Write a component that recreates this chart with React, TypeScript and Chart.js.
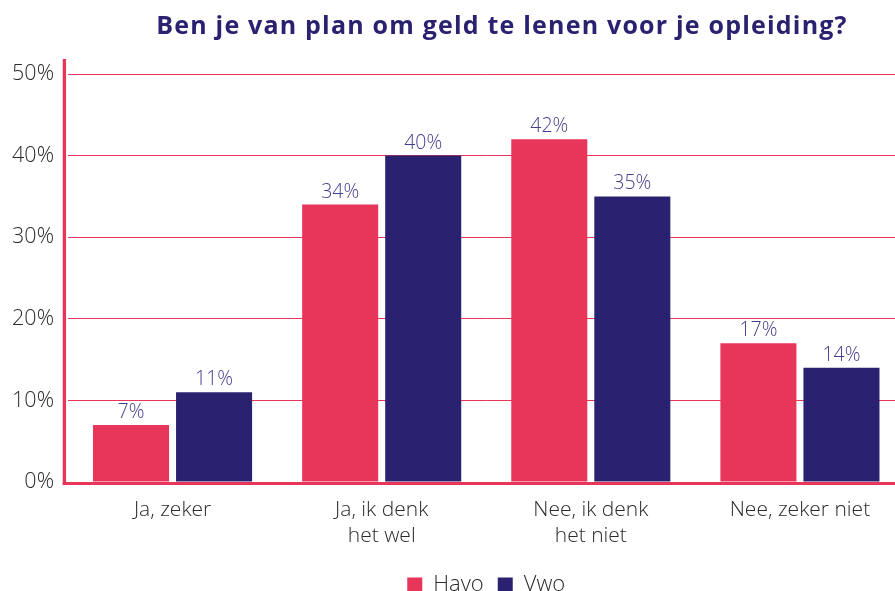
import React, { useEffect, useRef } from "react";
import { Chart, registerables } from "chart.js";

Chart.register(...registerables);

const titleText = "Ben je van plan om geld te lenen voor je opleiding?";
const categories: string[][] = [
  ["Ja, zeker"],
  ["Ja, ik denk", "het wel"],
  ["Nee, ik denk", "het niet"],
  ["Nee, zeker niet"],
];
const seriesNames = ["Havo", "Vwo"];
const havoValues = [7, 34, 42, 17];
const vwoValues = [11, 40, 35, 14];
const seriesColors = ["#e8355a", "#2a2270"];
const yMax = 50;
const yStep = 10;

const PINK = "#e8355a";
const NAVY = "#2a2270";
const TEXT = "#2b2b2b";
const LABEL = "#433d8e";
const FONT = "'Open Sans', Lato, sans-serif";

const decorPlugin = {
  id: "decor",
  afterDatasetsDraw(chart: any) {
    const { ctx, chartArea } = chart;
    ctx.save();
    // data labels
    ctx.font = `300 19.5px ${FONT}`;
    ctx.fillStyle = LABEL;
    ctx.textAlign = "center";
    ctx.textBaseline = "alphabetic";
    chart.data.datasets.forEach((ds: any, di: number) => {
      const meta = chart.getDatasetMeta(di);
      meta.data.forEach((bar: any, i: number) => {
        ctx.fillText(`${ds.data[i]}%`, bar.x, bar.y - 7);
      });
    });
    // axis lines
    ctx.strokeStyle = PINK;
    ctx.lineWidth = 3.3;
    ctx.beginPath();
    ctx.moveTo(chartArea.left - 3.6, 59);
    ctx.lineTo(chartArea.left - 3.6, chartArea.bottom + 3);
    ctx.stroke();
    ctx.lineWidth = 3;
    ctx.beginPath();
    ctx.moveTo(chartArea.left - 5.3, chartArea.bottom + 1.5);
    ctx.lineTo(chart.width, chartArea.bottom + 1.5);
    ctx.stroke();
    // title
    ctx.font = `700 25px ${FONT}`;
    try {
      (ctx as any).letterSpacing = "1.2px";
    } catch (e) {}
    ctx.fillStyle = NAVY;
    ctx.textAlign = "center";
    ctx.fillText(titleText, 502, 34);
    ctx.restore();
  },
};

export default function App() {
  const ref = useRef<HTMLCanvasElement | null>(null);
  useEffect(() => {
    if (!ref.current) return;
    const chart = new Chart(ref.current, {
      type: "bar",
      data: {
        labels: categories,
        datasets: [
          {
            label: seriesNames[0],
            data: havoValues,
            backgroundColor: seriesColors[0],
            borderWidth: 0,
            categoryPercentage: 0.794,
            barPercentage: 0.916,
          },
          {
            label: seriesNames[1],
            data: vwoValues,
            backgroundColor: seriesColors[1],
            borderWidth: 0,
            categoryPercentage: 0.794,
            barPercentage: 0.916,
          },
        ],
      },
      options: {
        responsive: false,
        animation: false,
        layout: { padding: { top: 74, right: 5.5, left: 0, bottom: 0 } },
        plugins: {
          title: { display: false },
          tooltip: { enabled: false },
          legend: {
            display: true,
            position: "bottom",
            fullSize: false,
            labels: {
              boxWidth: 15,
              boxHeight: 15,
              padding: 14,
              color: TEXT,
              font: { family: FONT, size: 22, weight: "300" as any },
            },
          },
        },
        scales: {
          x: {
            grid: { display: false, drawTicks: false },
            border: { display: false },
            ticks: {
              color: TEXT,
              padding: 15,
              maxRotation: 0,
              autoSkip: false,
              font: { family: FONT, size: 21, weight: "300" as any, lineHeight: 1.24 },
            },
            afterFit: (scale: any) => {
              scale.height = 78;
            },
          },
          y: {
            min: 0,
            max: yMax,
            grid: { color: PINK, lineWidth: 1, drawTicks: false },
            border: { display: false },
            ticks: {
              stepSize: yStep,
              color: TEXT,
              padding: 14,
              font: { family: FONT, size: 21.5, weight: "300" as any },
              callback: (v: any) => `${v}%`,
            },
            afterFit: (scale: any) => {
              scale.width = 68;
            },
          },
        },
      },
      plugins: [decorPlugin],
    });
    return () => chart.destroy();
  }, []);
  return (
    <div
      style={{
        position: "absolute",
        left: 0,
        top: 0,
        width: 895,
        height: 591,
        overflow: "hidden",
        background: "#fff",
      }}
    >
      <canvas ref={ref} width={910} height={606} style={{ display: "block" }} />
    </div>
  );
}
